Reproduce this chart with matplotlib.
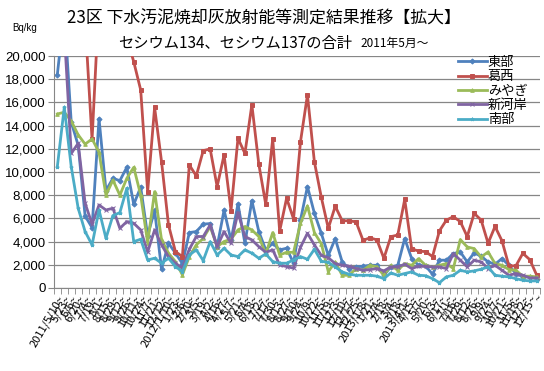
import matplotlib
matplotlib.use("Agg")
import matplotlib.pyplot as plt
import numpy as np

plt.rcParams['font.family'] = ['Noto Sans CJK JP', 'DejaVu Sans']

# category labels (sampling dates)
dates = [
    "2011/5/10~", "5/23~", "6/6~", "6/20~", "7/4~", "7/19~", "8/1~", "8/15~",
    "8/29~", "9/12~", "9/26~", "10/11~", "10/24~", "11/7~", "11/21~", "12/12~",
    "2012/1/10~", "1/23~", "2/6~", "2/20~", "3/5~", "3/19~", "4/2~", "4/16~",
    "4/27~", "5/7~", "5/21~", "6/4~", "6/18~", "7/2~", "7/17~", "7/30~",
    "8/13~", "8/27~", "9/10~", "9/24~", "10/9~", "10/22~", "11/5~", "11/19~",
    "12/3~", "12/10~", "12/17~", "12/25~",
    "2013/1/8~", "1/21~", "2/4~", "2/18~", "3/4~", "3/18~",
    "2013/4/1~", "4/15~", "5/7~", "5/20~", "6/3~", "6/17~", "7/1~", "7/16~",
    "7/29~", "8/12~", "8/26~", "9/9~", "9/24~", "10/7~", "10/21~", "11/5~",
    "11/18~", "12/2~", "12/15~", "~",
]

toubu = [18400, 23800, 14300, 12300, 6200, 5200, 14600, 8400, 9450, 9250,
         10400, 7200, 8700, 4500, 6700, 1600, 3850, 3000, 2100, 4770,
         4860, 5500, 5550, 3560, 6720, 4100, 7240, 3850, 7530, 4860,
         3280, 3850, 3280, 3420, 2130, 5860, 8740, 6440, 4700, 2800,
         4250, 2240, 1670, 1810, 1870, 1950, 1950, 1090, 1810, 1950,
         4250, 2530, 1950, 1900, 1180, 2390, 2390, 2960, 3100, 2240,
         3020, 2730, 2240, 2040, 2530, 1950, 1240, 950, 950, 800]

kasai = [38000, 35000, 32000, 27000, 23000, 12800, 24800, 30000, 28000, 26000,
         21600, 19500, 17070, 8300, 15570, 10890, 5430, 3130, 2700, 10600,
         9660, 11840, 11980, 8740, 11470, 6670, 12900, 11600, 15800, 10670,
         7200, 12850, 4900, 7740, 5950, 12620, 16640, 10870, 7800, 5140,
         7040, 5800, 5780, 5700, 4100, 4320, 4140, 2550, 4420, 4560,
         7630, 3380, 3170, 3130, 2700, 4920, 5850, 6140, 5720, 4420,
         6430, 5850, 3850, 5300, 4060, 1900, 1900, 2980, 2440, 1100]

miyagi = [15000, 15150, 14400, 13200, 12400, 12850, 11700, 8000, 9300, 8000,
          9450, 10400, 8000, 3900, 8300, 4150, 3000, 2270, 1120, 2700,
          3710, 4280, 5290, 3560, 4000, 4200, 5000, 5290, 5000, 4430,
          2930, 4770, 2840, 3070, 3070, 5570, 7070, 4770, 3800, 1400,
          2240, 1090, 1090, 1670, 1520, 1950, 1810, 1090, 1950, 1520,
          2100, 1950, 2530, 1950, 1810, 1950, 2100, 1670, 4170, 3530,
          3390, 2670, 3100, 2100, 1950, 1580, 1520, 1010, 1010, 950]

shingashi = [26000, 22100, 11600, 12470, 7300, 5500, 7150, 6720, 6870, 5140,
             5720, 5570, 5000, 3100, 5000, 3710, 2700, 2130, 1700, 3330,
             4430, 4430, 5430, 3560, 4860, 3850, 6500, 4430, 4140, 3560,
             3070, 3280, 1980, 1840, 1700, 3510, 4710, 3710, 2800, 2600,
             2100, 1950, 1870, 1670, 1520, 1580, 1670, 1470, 1810, 1810,
             2040, 1670, 1870, 1850, 1810, 1810, 1670, 2960, 2390, 1810,
             2390, 2240, 1670, 1950, 1520, 1090, 1240, 1090, 860, 860]

nanbu = [10460, 15570, 10460, 6870, 4860, 3710, 6720, 4280, 6240, 6490,
         8590, 3990, 4200, 2410, 2560, 2130, 2560, 1840, 1410, 2840,
         3280, 2360, 3990, 2840, 3420, 2840, 2700, 3280, 2990, 2560,
         2930, 2270, 2130, 2130, 2410, 2700, 2470, 3330, 2300, 2200,
         1810, 1380, 1180, 1090, 1090, 1090, 1010, 800, 1290, 1090,
         1240, 1380, 1090, 1050, 800, 450, 950, 1090, 1520, 1380,
         1470, 1610, 1810, 1090, 1010, 950, 800, 660, 600, 600]

series = [
    ("東部", toubu, "#4F81BD", "D"),
    ("葛西", kasai, "#C0504D", "s"),
    ("みやぎ", miyagi, "#9BBB59", "^"),
    ("新河岸", shingashi, "#8064A2", "x"),
    ("南部", nanbu, "#4BACC6", "*"),
]

fig = plt.figure(figsize=(5.44, 3.71), dpi=100)
ax = fig.add_axes([0.099, 0.224, 0.894, 0.625])

x = np.arange(len(dates))
for name, vals, col, mk in series:
    ax.plot(x, vals, color=col, lw=2.0, marker=mk, markersize=2.6,
            markeredgewidth=0.7, label=name)

ax.set_xlim(-0.5, len(dates) - 0.5)
ax.set_ylim(0, 20000)
ax.set_yticks(np.arange(0, 20001, 2000))
ax.set_yticklabels([f"{v:,}" for v in range(0, 20001, 2000)],
                   fontsize=9.5, family=['Liberation Sans'])
ax.grid(axis='y', color='#868686', lw=0.9)
ax.set_axisbelow(True)

ax.set_xticks(x)
ax.set_xticklabels(dates, rotation=60, ha='right', rotation_mode='anchor',
                   fontsize=8)
ax.set_xticks(np.arange(-0.5, len(dates), 1), minor=True)
ax.tick_params(axis='x', which='major', length=0, pad=4)
ax.tick_params(axis='x', which='minor', length=4, color='#868686')
ax.tick_params(axis='y', length=4, color='#868686', pad=2)

for s in ['top', 'right']:
    ax.spines[s].set_visible(False)
for s in ['left', 'bottom']:
    ax.spines[s].set_color('#868686')

ax.legend(loc='upper left', bbox_to_anchor=(0.83, 1.0), frameon=False,
          fontsize=9.5, handlelength=2.2, handletextpad=0.1,
          labelspacing=0.1, borderpad=0, borderaxespad=0)

fig.text(0.485, 0.951, "23区 下水汚泥焼却灰放射能等測定結果推移【拡大】",
         ha='center', va='center', fontsize=12.2)
fig.text(0.648, 0.882, "セシウム134、セシウム137の合計", ha='right',
         va='center', fontsize=11)
fig.text(0.662, 0.882, "2011年5月～", ha='left', va='center', fontsize=8.5)
fig.text(0.045, 0.925, "Bq/kg", ha='center', va='center', fontsize=7,
         family=['Liberation Sans'])

fig.savefig("out.png", dpi=100)
